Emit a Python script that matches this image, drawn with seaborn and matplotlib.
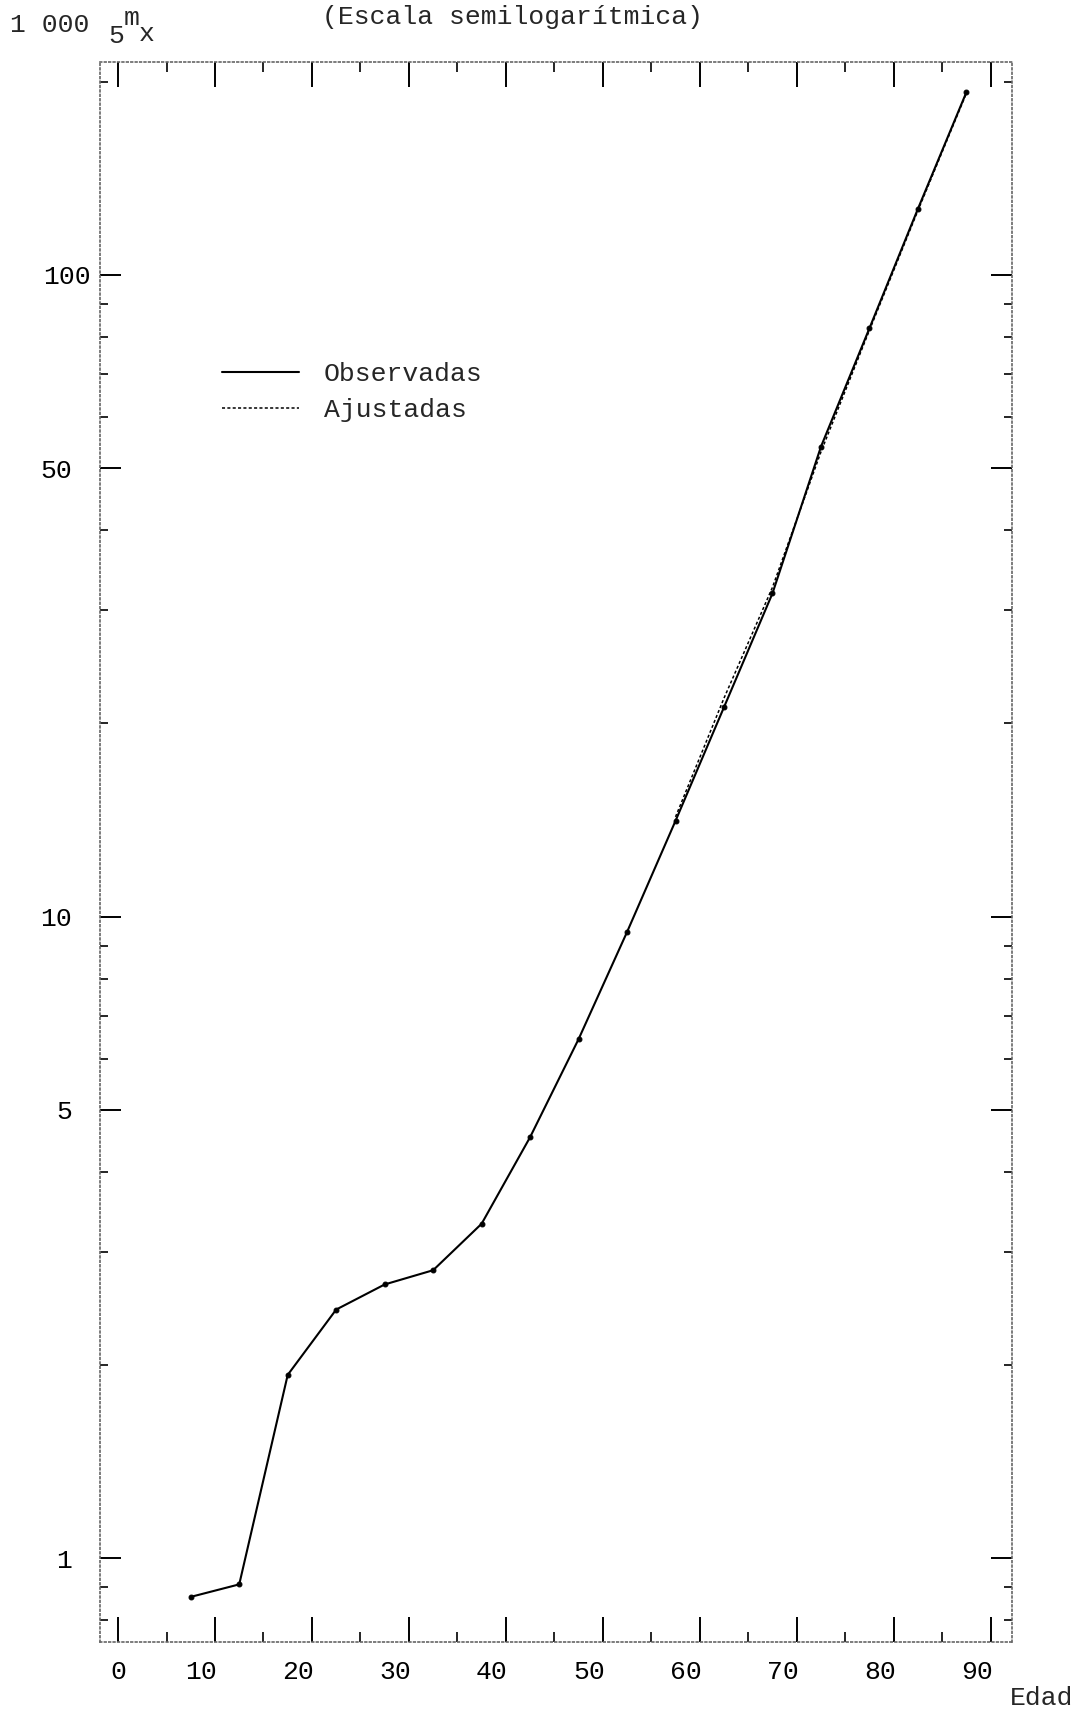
import pandas as pd
import matplotlib
matplotlib.use("Agg")
import matplotlib.pyplot as plt
import matplotlib.transforms as mtransforms
import seaborn as sns
from matplotlib.lines import Line2D
from matplotlib.ticker import FixedLocator, FixedFormatter, NullFormatter

# Tasas de mortalidad (1000 * 5mx) por grupo de edad
edad = [7.5, 12.5, 17.5, 22.5, 27.5, 32.5, 37.5, 42.5, 47.5, 52.5,
        57.5, 62.5, 67.5, 72.5, 77.5, 82.5, 87.5]
observadas = [0.87, 0.91, 1.93, 2.44, 2.67, 2.81, 3.32, 4.53, 6.44, 9.46,
              14.1, 21.2, 31.9, 54.0, 82.6, 126.8, 192.7]

edad_ajustadas = [57.5, 62.5, 67.5, 72.5, 77.5, 82.5, 87.5]
ajustadas = [14.3, 21.9, 32.6, 53.0, 82.0, 126.0, 192.0]

x_ticks = [0, 10, 20, 30, 40, 50, 60, 70, 80, 90]
x_minor = [5, 15, 25, 35, 45, 55, 65, 75, 85]
y_ticks = [1, 5, 10, 50, 100]
y_labels = ["1", "5", "10", "50", "100"]
y_minor = [0.8, 0.9, 2, 3, 4, 6, 7, 8, 9, 20, 30, 40, 60, 70, 80, 90, 200]

sns.set_theme(style="ticks")
plt.rcParams["font.family"] = ["Liberation Mono", "DejaVu Sans Mono"]
fs = 19

fig = plt.figure(figsize=(10.8, 17.12), dpi=100)
ax = fig.add_axes([0.0926, 0.0409, 0.8444, 0.9229])
ax.set_yscale("log")

obs_df = pd.DataFrame({"Edad": edad, "m": observadas})
aj_df = pd.DataFrame({"Edad": edad_ajustadas, "m": ajustadas})

sns.lineplot(data=obs_df, x="Edad", y="m", ax=ax, color="black", lw=1.5,
             marker="o", markersize=3.5, markeredgecolor="black")
sns.lineplot(data=aj_df, x="Edad", y="m", ax=ax, color="black", lw=1.1,
             linestyle=(0, (2, 1.5)))

ax.set_xlim(-1.86, 92.2)
ax.set_ylim(0.74, 214.8)
ax.set_xlabel("")
ax.set_ylabel("")

ax.xaxis.set_major_locator(FixedLocator(x_ticks))
ax.xaxis.set_minor_locator(FixedLocator(x_minor))
ax.xaxis.set_minor_formatter(NullFormatter())
ax.yaxis.set_major_locator(FixedLocator(y_ticks))
ax.yaxis.set_major_formatter(FixedFormatter(y_labels))
ax.yaxis.set_minor_locator(FixedLocator(y_minor))
ax.yaxis.set_minor_formatter(NullFormatter())

ax.tick_params(which="both", direction="in", top=True, right=True,
               colors="black", labelsize=fs)
ax.tick_params(axis="x", which="major", length=18, width=1.4, pad=13)
ax.tick_params(axis="x", which="minor", length=7, width=1.2)
ax.tick_params(axis="y", which="major", length=15, width=1.4, pad=20)
ax.tick_params(axis="y", which="minor", length=6, width=1.2)

# los numeros mecanografiados no quedan centrados en las marcas
shift = mtransforms.ScaledTranslation(-0.14, 0, fig.dpi_scale_trans)
for lab in ax.get_xticklabels()[1:]:
    lab.set_transform(lab.get_transform() + shift)
lab100 = ax.get_yticklabels()[-1]
lab100.set_transform(lab100.get_transform() +
                     mtransforms.ScaledTranslation(0.19, 0, fig.dpi_scale_trans))

for s in ax.spines.values():
    s.set_linestyle(":")
    s.set_color("#666666")
    s.set_linewidth(1.2)

leg_handles = [Line2D([], [], color="black", lw=1.5),
               Line2D([], [], color="black", lw=1.1, linestyle=(0, (2, 1.5)))]
ax.legend(leg_handles, ["Observadas", "Ajustadas"], loc="center left",
          bbox_to_anchor=(0.134, 0.791), frameon=False, fontsize=fs,
          handlelength=2.9, handletextpad=0.95, labelspacing=0.45,
          borderpad=0, borderaxespad=0)

# titulo y rotulos mecanografiados
fig.text(513 / 1080, 1 - 17 / 1712, "(Escala semilogarítmica)",
         ha="center", va="center", fontsize=fs)
fig.text(10 / 1080, 1 - 32 / 1712, "1 000", ha="left", va="baseline", fontsize=fs)
fig.text(108 / 1080, 1 - 43 / 1712, "5", ha="left", va="baseline", fontsize=fs)
fig.text(124 / 1080, 1 - 25 / 1712, "m", ha="left", va="baseline", fontsize=fs)
fig.text(139 / 1080, 1 - 41 / 1712, "x", ha="left", va="baseline", fontsize=fs)
fig.text(1042 / 1080, 1 - 1698 / 1712, "Edad", ha="center", va="center", fontsize=fs)

fig.savefig("out.png", dpi=100, facecolor="white")
